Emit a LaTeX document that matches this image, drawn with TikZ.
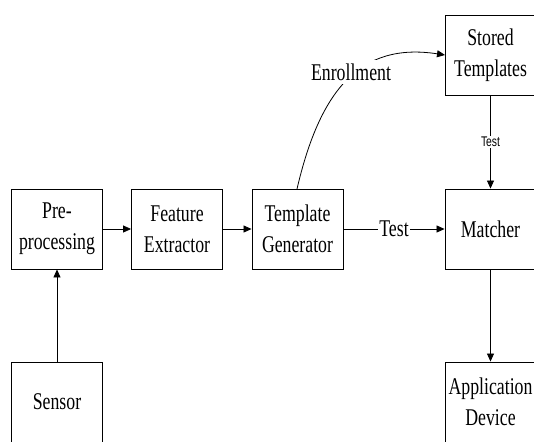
\documentclass[tikz,border=0pt]{standalone}
\usepackage{fontspec}
\setmainfont[FakeStretch=0.74]{Liberation Serif}
\newfontfamily\smallsans[FakeStretch=0.74]{Liberation Sans}
\usetikzlibrary{arrows.meta}
\begin{document}
\begin{tikzpicture}[x=1pt,y=-1pt,
  blk/.style={draw, line width=0.9pt, minimum width=91pt, minimum height=80pt, inner sep=0pt,
    align=center, font=\fontsize{24}{31}\selectfont},
  conn/.style={line width=0.8pt, -{Triangle[length=8pt,width=7pt]}},
  lbl/.style={fill=white, inner sep=1pt, font=\fontsize{24}{31}\selectfont},
  slbl/.style={fill=white, inner sep=1pt, font=\smallsans\fontsize{14}{16}\selectfont}]
\useasboundingbox (0,0) rectangle (534,441);
\clip (0,0) rectangle (534,441);
\node[blk] (pre) at (57,229) {Pre-\\processing};
\node[blk] (fe) at (177,229) {Feature\\Extractor};
\node[blk] (tg) at (297.5,229) {Template\\Generator};
\node[blk] (ma) at (490.5,229) {Matcher};
\node[blk] (st) at (490.5,55) {Stored\\Templates};
\node[blk] (se) at (57,402) {Sensor};
\node[blk] (ap) at (490.5,402) {Application\\Device};
\draw[conn] (se) -- (pre);
\draw[conn] (pre) -- (fe);
\draw[conn] (fe) -- (tg);
\draw[conn] (tg) -- node[lbl] {Test} (ma);
\draw[conn] (st) -- node[slbl] {Test} (ma);
\draw[conn] (ma) -- (ap);
\coordinate (ea) at (297,189);
\coordinate (eb) at (445,55);
\draw[conn] (ea) .. controls (320,90) and (360,42) .. (eb);
\node[lbl, inner sep=4pt] (en) at (351,72) {Enrollment};
\end{tikzpicture}
\end{document}
